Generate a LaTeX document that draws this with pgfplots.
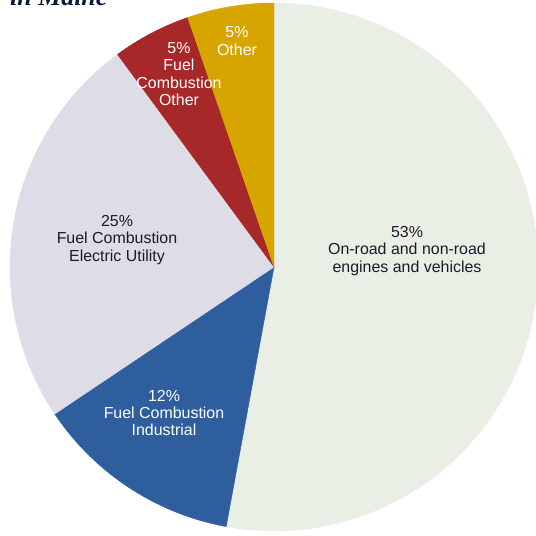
\documentclass[border=0pt]{standalone}
\usepackage{pgfplots}
\pgfplotsset{compat=1.18}
\usepackage{fontspec}
\setmainfont{Liberation Sans}
\newfontfamily\titlefont{Liberation Serif}
\definecolor{road}{HTML}{E9EFE4}
\definecolor{indus}{HTML}{2F5E9E}
\definecolor{elec}{HTML}{DDDCE7}
\definecolor{fco}{HTML}{A72828}
\definecolor{oth}{HTML}{D6A500}
\definecolor{darktxt}{HTML}{1A1A28}
\definecolor{navy}{HTML}{0B1838}
\tikzset{lbl/.style={font=\fontsize{16}{17.5}\selectfont, align=center, inner sep=0pt}}
% shares of the pie (percent), clockwise from the top
\def\pRoad{52.9}
\def\pIndus{12.7}
\def\pElec{24.3}
\def\pFco{4.8}
\def\pOth{5.3}
\pgfmathsetmacro\aA{90-3.6*\pRoad}
\pgfmathsetmacro\aB{\aA-3.6*\pIndus}
\pgfmathsetmacro\aC{\aB-3.6*\pElec}
\pgfmathsetmacro\aD{\aC-3.6*\pFco}
\pgfmathsetmacro\aE{\aD-3.6*\pOth}
\def\cx{274}
\def\cy{269}
\def\R{264}
\begin{document}
\begin{tikzpicture}
\useasboundingbox (0,0) rectangle (536bp,536bp);
\begin{axis}[hide axis, scale only axis, width=536bp, height=536bp,
  xmin=0, xmax=536, ymin=0, ymax=536, clip=true]
\addplot[fill=road, draw=road, line width=0.4pt, domain=90:\aA, samples=150, variable=\t]
  ({\cx+\R*cos(\t)},{\cy+\R*sin(\t)}) -- (axis cs:\cx,\cy) -- cycle;
\addplot[fill=indus, draw=indus, line width=0.4pt, domain=\aA:\aB, samples=50, variable=\t]
  ({\cx+\R*cos(\t)},{\cy+\R*sin(\t)}) -- (axis cs:\cx,\cy) -- cycle;
\addplot[fill=elec, draw=elec, line width=0.4pt, domain=\aB:\aC, samples=90, variable=\t]
  ({\cx+\R*cos(\t)},{\cy+\R*sin(\t)}) -- (axis cs:\cx,\cy) -- cycle;
\addplot[fill=fco, draw=fco, line width=0.4pt, domain=\aC:\aD, samples=30, variable=\t]
  ({\cx+\R*cos(\t)},{\cy+\R*sin(\t)}) -- (axis cs:\cx,\cy) -- cycle;
\addplot[fill=oth, draw=oth, line width=0.4pt, domain=\aD:\aE, samples=30, variable=\t]
  ({\cx+\R*cos(\t)},{\cy+\R*sin(\t)}) -- (axis cs:\cx,\cy) -- cycle;
\node[lbl, text=darktxt] at (axis cs:407,285) {53\%\\On-road and non-road\\engines and vehicles};
\node[lbl, text=darktxt] at (axis cs:117,296) {25\%\\Fuel Combustion\\Electric Utility};
\node[lbl, text=white] at (axis cs:164,123) {12\%\\Fuel Combustion\\Industrial};
\node[lbl, text=white] at (axis cs:179,462) {5\%\\Fuel\\Combustion\\Other};
\node[lbl, text=white] at (axis cs:237,495) {5\%\\Other};
\end{axis}
\node[overlay, anchor=base west, text=navy, inner sep=0pt,
  font=\titlefont\fontsize{26}{30}\selectfont\bfseries\itshape] at (10bp,530bp) {in Maine};
\end{tikzpicture}
\end{document}
